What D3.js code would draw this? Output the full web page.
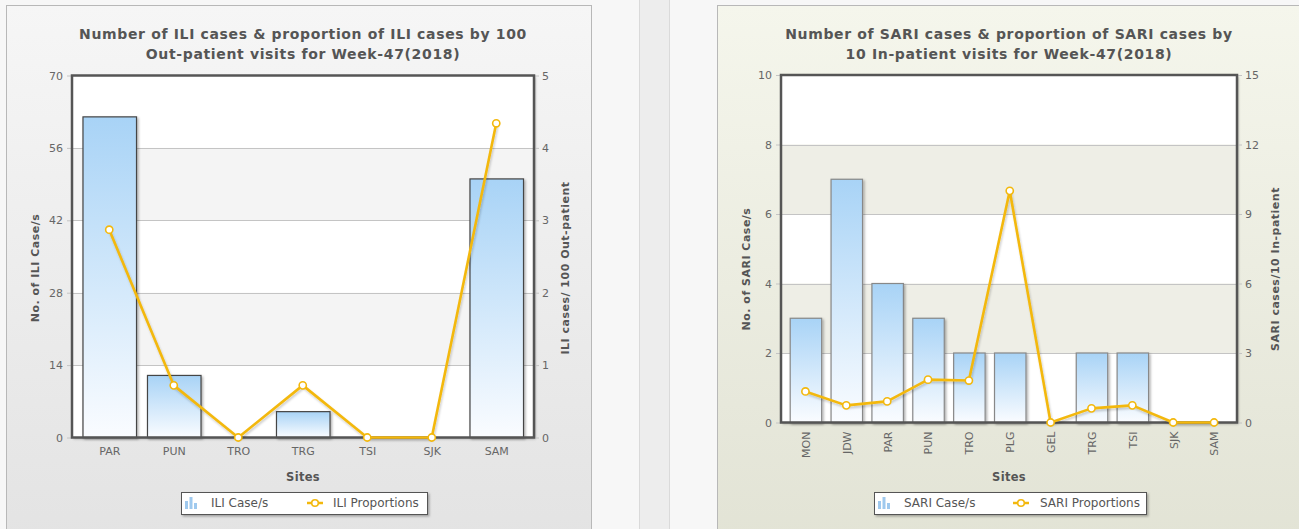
<!DOCTYPE html>
<html><head><meta charset="utf-8">
<script src="https://cdn.jsdelivr.net/npm/d3@7"></script>
<style>
body{margin:0;background:#f7f7f7;overflow:hidden;}
svg{display:block;font-family:"DejaVu Sans",Verdana,sans-serif;}
</style>
</head><body><svg id="c" width="1299" height="529"></svg>
<script>
// ---------- DATA ----------
const iliSites = ["PAR","PUN","TRO","TRG","TSI","SJK","SAM"];
const iliCases = [62,12,0,5,0,0,50];
const iliProportions = [2.87,0.72,0,0.72,0,0,4.34];
const iliCaseTicks = [0,14,28,42,56,70];
const iliPropTicks = [0,1,2,3,4,5];

const sariSites = ["MON","JDW","PAR","PUN","TRO","PLG","GEL","TRG","TSI","SJK","SAM"];
const sariCases = [3,7,4,3,2,2,0,2,2,0,0];
const sariProportions = [1.34,0.74,0.91,1.85,1.81,10.0,0,0.61,0.74,0,0];
const sariCaseTicks = [0,2,4,6,8,10];
const sariPropTicks = [0,3,6,9,12,15];

// ---------- DRAW ----------
const svg = d3.select("#c");
const defs = svg.append("defs");

function grad(id, stops){
  const g = defs.append("linearGradient").attr("id",id).attr("x1",0).attr("y1",0).attr("x2",0).attr("y2",1);
  stops.forEach(s=>g.append("stop").attr("offset",s[0]).attr("stop-color",s[1]));
}
grad("bgL",[[0,"#f6f6f6"],[1,"#e3e3e3"]]);
grad("bgR",[[0,"#f5f6ec"],[1,"#e2e3d5"]]);
grad("bar",[[0,"#a8d3f6"],[1,"#fafcff"]]);
const f = defs.append("filter").attr("id","sh").attr("x","-20%").attr("y","-20%").attr("width","140%").attr("height","140%");
f.append("feDropShadow").attr("dx",1.5).attr("dy",1.5).attr("stdDeviation",1.2).attr("flood-color","#000").attr("flood-opacity",0.3);
const f2 = defs.append("filter").attr("id","shL").attr("x","-5%").attr("y","-5%").attr("width","110%").attr("height","110%");
f2.append("feDropShadow").attr("dx",1).attr("dy",2).attr("stdDeviation",1.2).attr("flood-color","#000").attr("flood-opacity",0.2);

// middle strips
svg.append("rect").attr("x",639.5).attr("y",-1).attr("width",30).attr("height",531).attr("fill","#ededed").attr("stroke","#dadada").attr("stroke-width",1);

function chart(c){
  const g = svg.append("g");
  g.append("rect").attr("x",c.panel[0]+0.5).attr("y",c.panel[1]+0.5).attr("width",c.panel[2]).attr("height",c.panel[3])
    .attr("fill",`url(#${c.bg})`).attr("stroke","#b8b8b8");
  const [fx0,fx1,fy0,fy1] = c.frame;
  const x = d3.scaleBand().domain(c.sites).range(c.xr).paddingInner(c.pad).paddingOuter(c.pad/2);
  const xc = d3.scalePoint().domain(c.sites).range([c.xr[0]+x.step()/2, c.xr[1]-x.step()/2]);
  const yL = d3.scaleLinear().domain([c.leftTicks[0], c.leftTicks[c.leftTicks.length-1]]).range([fy1,fy0]);
  const yR = d3.scaleLinear().domain([c.rightTicks[0], c.rightTicks[c.rightTicks.length-1]]).range([fy1,fy0]);

  // frame background + shadow
  g.append("rect").attr("x",fx0).attr("y",fy0).attr("width",fx1-fx0).attr("height",fy1-fy0).attr("fill","#fff").attr("filter","url(#sh)");
  // alternating bands
  for(let i=0;i<c.leftTicks.length-1;i++){
    if(i%2===1){
      g.append("rect").attr("x",fx0).attr("width",fx1-fx0)
        .attr("y",yL(c.leftTicks[i+1])).attr("height",yL(c.leftTicks[i])-yL(c.leftTicks[i+1]))
        .attr("fill",c.band);
    }
  }
  // gridlines
  g.selectAll(null).data(c.leftTicks.slice(1,-1)).join("line")
    .attr("x1",fx0).attr("x2",fx1).attr("y1",d=>Math.round(yL(d))+0.5).attr("y2",d=>Math.round(yL(d))+0.5)
    .attr("stroke","#c4c4c4").attr("stroke-width",1);

  // left axis
  const fmt = d3.format("d");
  const aL = g.append("g").attr("transform",`translate(${fx0},0)`)
    .call(d3.axisLeft(yL).tickValues(c.leftTicks).tickFormat(fmt).tickSize(5).tickPadding(4));
  aL.select(".domain").remove();
  aL.selectAll("line").attr("stroke","#c4c4c4");
  aL.selectAll("text").attr("fill","#666").style("font-size","11px").style("font-family","DejaVu Sans");
  const aR = g.append("g").attr("transform",`translate(${fx1},0)`)
    .call(d3.axisRight(yR).tickValues(c.rightTicks).tickFormat(fmt).tickSize(5).tickPadding(3));
  aR.select(".domain").remove();
  aR.selectAll("line").attr("stroke","#c4c4c4");
  aR.selectAll("text").attr("fill","#666").style("font-size","11px").style("font-family","DejaVu Sans");

  // bars
  g.selectAll(null).data(c.sites.map((s,i)=>({s,v:c.cases[i]})).filter(d=>d.v>0)).join("rect")
    .attr("x",d=>x(d.s)+0.5).attr("width",x.bandwidth())
    .attr("y",d=>yL(d.v)).attr("height",d=>yL(0)-yL(d.v))
    .attr("fill","url(#bar)").attr("stroke",c.barStroke).attr("stroke-width",1.2).attr("filter","url(#sh)");

  // frame border
  g.append("rect").attr("x",fx0).attr("y",fy0).attr("width",fx1-fx0).attr("height",fy1-fy0)
    .attr("fill","none").attr("stroke","#555").attr("stroke-width",2.5);

  // x labels
  const ax = g.append("g").attr("transform",`translate(0,${fy1})`).call(d3.axisBottom(xc).tickSize(0).tickPadding(0));
  ax.select(".domain").remove();
  ax.selectAll("text").attr("fill","#666").style("font-size","11px").style("font-family","DejaVu Sans");
  if(c.rotate){
    ax.selectAll("text").attr("y",0).attr("dy","0.35em").attr("x",-9).attr("text-anchor","end")
      .attr("transform","rotate(-90)");
  } else {
    ax.selectAll("text").attr("y",14).attr("dy","0.35em");
  }

  // line
  const pts = c.sites.map((s,i)=>[xc(s), yR(c.props[i])]);
  g.append("path").attr("d",d3.line()(pts)).attr("fill","none").attr("stroke","#f3b80d")
    .attr("stroke-width",2.6).attr("stroke-linejoin","round").attr("filter","url(#shL)");
  g.selectAll(null).data(pts).join("circle").attr("cx",d=>d[0]).attr("cy",d=>d[1]).attr("r",3.6)
    .attr("fill","#fff").attr("stroke","#f3b80d").attr("stroke-width",1.6);

  // titles
  const t = g.append("text").attr("text-anchor","middle").attr("fill","#555").style("font-weight","bold")
    .style("font-size","14px").style("letter-spacing","0.65px");
  t.append("tspan").attr("x",c.titleX).attr("y",39).text(c.title[0]);
  t.append("tspan").attr("x",c.titleX).attr("y",59).text(c.title[1]);
  g.append("text").attr("x",c.titleX).attr("y",481).attr("text-anchor","middle").attr("fill","#555")
    .style("font-weight","bold").style("font-size","11.5px").style("letter-spacing","0.3px").text("Sites");
  [[c.ylx,c.yLabel],[c.yrx,c.yRLabel]].forEach(([px,lab])=>{
    g.append("text").attr("transform",`translate(${px},${c.yly}) rotate(-90)`).attr("text-anchor","middle")
      .attr("dy","0.35em").attr("fill","#555").style("font-weight","bold").style("font-size","11px")
      .style("letter-spacing","0.5px").text(lab);
  });

  // legend
  const [lx,ly,lw,lh] = c.legend;
  const lg = g.append("g");
  lg.append("rect").attr("x",lx+0.5).attr("y",ly+0.5).attr("width",lw).attr("height",lh).attr("fill","#fff")
    .attr("stroke","#555").attr("stroke-width",1).attr("filter","url(#sh)");
  const ic = c.icon1;
  [0,4.5,9].forEach((dx,i)=>{
    const hh=[8,12,6][i];
    lg.append("rect").attr("x",ic+dx).attr("y",ly+lh-5-hh).attr("width",3).attr("height",hh).attr("fill","#9fc9ee");
  });
  lg.append("text").attr("x",c.text1).attr("y",ly+lh/2).attr("dy","0.35em").attr("fill","#555").style("font-size","12px").text(c.leg[0]);
  lg.append("line").attr("x1",c.icon2).attr("x2",c.icon2+16).attr("y1",ly+lh/2).attr("y2",ly+lh/2).attr("stroke","#f3b80d").attr("stroke-width",2.5);
  lg.append("circle").attr("cx",c.icon2+8).attr("cy",ly+lh/2).attr("r",3.3).attr("fill","#fff").attr("stroke","#f3b80d").attr("stroke-width",1.6);
  lg.append("text").attr("x",c.text2).attr("y",ly+lh/2).attr("dy","0.35em").attr("fill","#555").style("font-size","12px").text(c.leg[1]);
}

chart({
  panel:[6,5,585,540], bg:"bgL", band:"#f4f4f4", barStroke:"#444",
  frame:[72,534,75.5,437.5], xr:[77,528.5], pad:0.17,
  sites:iliSites, cases:iliCases, props:iliProportions,
  leftTicks:iliCaseTicks, rightTicks:iliPropTicks,
  title:["Number of ILI cases & proportion of ILI cases by 100","Out-patient visits for Week-47(2018)"], titleX:303,
  yLabel:"No. of ILI Case/s", yRLabel:"ILI cases/ 100 Out-patient", ylx:35, yrx:565, yly:268,
  legend:[181,492,246,22], icon1:185, text1:211, icon2:307, text2:333, leg:["ILI Case/s","ILI Proportions"], rotate:false
});
chart({
  panel:[717,5,590,540], bg:"bgR", band:"#eeeee6", barStroke:"#888",
  frame:[781,1237,75,422.5], xr:[785,1234.5], pad:0.23,
  sites:sariSites, cases:sariCases, props:sariProportions,
  leftTicks:sariCaseTicks, rightTicks:sariPropTicks,
  title:["Number of SARI cases & proportion of SARI cases by","10 In-patient visits for Week-47(2018)"], titleX:1009,
  yLabel:"No. of SARI Case/s", yRLabel:"SARI cases/10 In-patient", ylx:746, yrx:1275, yly:269,
  legend:[874,492,272,22], icon1:878, text1:904, icon2:1013, text2:1040, leg:["SARI Case/s","SARI Proportions"], rotate:true
});
</script>
</body></html>
